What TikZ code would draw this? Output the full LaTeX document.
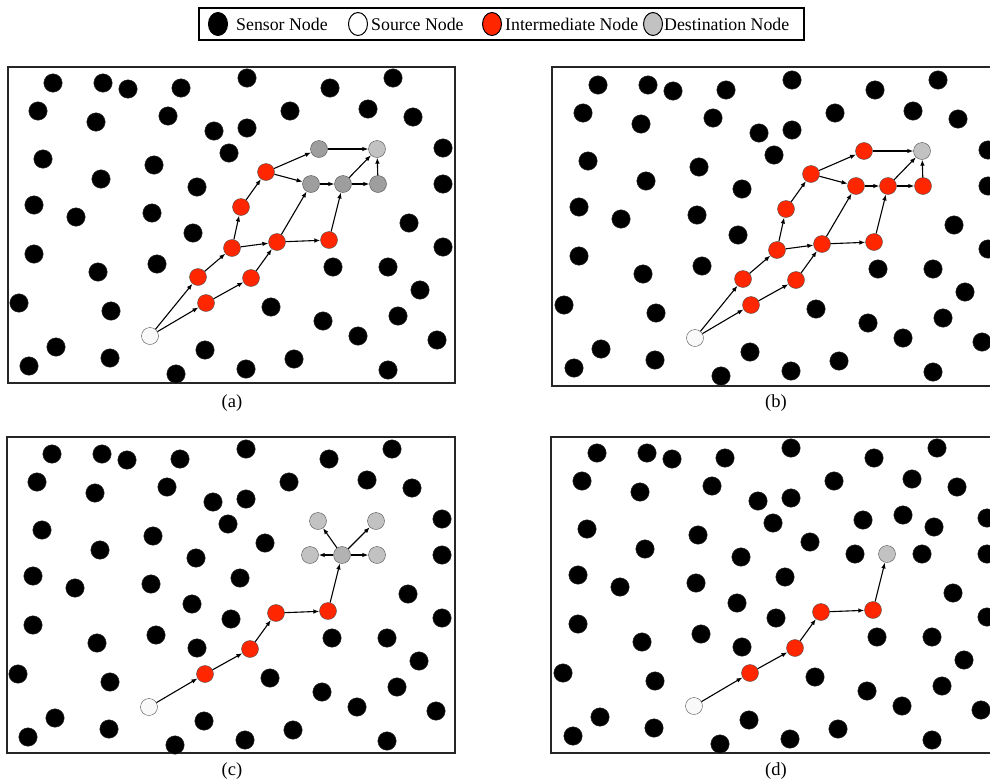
\documentclass[tikz,border=0pt]{standalone}
\usepackage{fontspec}
\setmainfont{Liberation Serif}
\usetikzlibrary{arrows.meta,shapes.geometric}

\definecolor{interred}{HTML}{FF2600}
\definecolor{destgray}{HTML}{C2C2C2}
\definecolor{hopgray}{HTML}{9E9E9E}
\definecolor{rimgray}{HTML}{505050}

\newcommand{\sensorlist}{53/83, 103/83, 128/89, 181/88, 247/78, 330/88, 393/78,
  38/111, 96/122, 168/116, 214/131, 247/128, 290/111, 368/109, 413/117,
  43/159, 154/165, 229/153, 101/179, 197/187, 443/148, 443/184,
  34/205, 76/217, 152/213, 193/233, 409/223, 34/254, 98/272, 157/264,
  443/247, 333/267, 388/267, 420/290, 19/303, 111/311, 271/307, 323/321,
  398/316, 358/336, 437/340, 56/347, 29/366, 110/358, 176/374, 205/350,
  246/369, 294/359, 388/370}
\newcommand{\routelist}{s/r1, s/r2, r1/r3, r2/r4, r3/r5, r3/r6, r4/r6, r5/r7,
  r6/r8, r7/g1, r7/g3, r6/g3, r8/g4, g3/g4, g4/g5, g4/g2, g5/g2, g1/g2}

\begin{document}
\begin{tikzpicture}[x=1pt,y=-1pt,
  sensor/.style={circle,fill=black,draw=black!80,minimum size=18.5pt,inner sep=0pt},
  src/.style={circle,fill=gray!5,draw=rimgray,minimum size=17pt,inner sep=0pt},
  relay/.style={circle,fill=interred,draw=rimgray,minimum size=17pt,inner sep=0pt},
  hop/.style={circle,fill=hopgray,draw=rimgray,minimum size=17pt,inner sep=0pt},
  dest/.style={circle,fill=destgray,draw=rimgray,minimum size=17pt,inner sep=0pt},
  hoparrow/.style={-{Latex[length=6pt,width=4.5pt]},line width=1.1pt},
  panelbox/.style={line width=1.5pt,draw=black!85},
  keymark/.style={ellipse,draw=black,line width=1pt,minimum width=19pt,minimum height=23pt,inner sep=0pt},
  keytext/.style={anchor=west,inner sep=0pt,font=\fontsize{17.8}{20}\selectfont},
  capt/.style={font=\fontsize{18.5}{20}\selectfont}]
  \useasboundingbox (0,0) rectangle (990,782);
  \clip (0,0) rectangle (990,782);

  \draw[line width=1.2pt] (199,8) rectangle (804,40);
  \node[keymark,fill=black] (key-sensor) at (218,24) {};
  \node[keytext] (key-sensor-txt) at (236,24) {Sensor Node};
  \node[keymark,fill=white] (key-src) at (358,24) {};
  \node[keytext] (key-src-txt) at (371,24) {Source Node};
  \node[keymark,fill=interred] (key-relay) at (492,24) {};
  \node[keytext] (key-relay-txt) at (505,24) {Intermediate Node};
  \node[keymark,fill=destgray] (key-dest) at (653,24) {};
  \node[keytext] (key-dest-txt) at (664,24) {Destination Node};

  \draw[panelbox] (8,67) rectangle (455,383);
  \draw[panelbox] (552,67) rectangle (1000,386);
  \draw[panelbox] (7,437) rectangle (455,753);
  \draw[panelbox] (551,437) rectangle (1000,753);
  \node[capt] (a-cap) at (232,403) {(a)};
  \node[capt] (b-cap) at (776,403) {(b)};
  \node[capt] (c-cap) at (232,771) {(c)};
  \node[capt] (d-cap) at (776,771) {(d)};

  \foreach \x/\y [count=\i] in \sensorlist
    \node[sensor] (a-\i) at (\x,\y) {};
  \node[src] (a-s) at (150,336) {};
  \node[relay] (a-r1) at (198,277) {};
  \node[relay] (a-r2) at (206,303) {};
  \node[relay] (a-r3) at (232,248) {};
  \node[relay] (a-r4) at (251,278) {};
  \node[relay] (a-r5) at (241,207) {};
  \node[relay] (a-r6) at (277,242) {};
  \node[relay] (a-r7) at (266,172) {};
  \node[relay] (a-r8) at (329,240) {};
  \node[hop] (a-g1) at (319,149) {};
  \node[dest] (a-g2) at (377,149) {};
  \node[hop] (a-g3) at (311,184) {};
  \node[hop] (a-g4) at (343,184) {};
  \node[hop] (a-g5) at (378,184) {};
  \foreach \u/\v in \routelist
    \draw[hoparrow] (a-\u) -- (a-\v);

  \begin{scope}[shift={(545,2)}]
    \foreach \x/\y [count=\i] in \sensorlist
      \node[sensor] (b-\i) at (\x,\y) {};
    \node[src] (b-s) at (150,336) {};
    \node[relay] (b-r1) at (198,277) {};
    \node[relay] (b-r2) at (206,303) {};
    \node[relay] (b-r3) at (232,248) {};
    \node[relay] (b-r4) at (251,278) {};
    \node[relay] (b-r5) at (241,207) {};
    \node[relay] (b-r6) at (277,242) {};
    \node[relay] (b-r7) at (266,172) {};
    \node[relay] (b-r8) at (329,240) {};
    \node[relay] (b-g1) at (319,149) {};
    \node[dest] (b-g2) at (377,149) {};
    \node[relay] (b-g3) at (311,184) {};
    \node[relay] (b-g4) at (343,184) {};
    \node[relay] (b-g5) at (378,184) {};
    \foreach \u/\v in \routelist
      \draw[hoparrow] (b-\u) -- (b-\v);
  \end{scope}

  \begin{scope}[shift={(-1,371)}]
    \foreach \x/\y [count=\i] in \sensorlist
      \node[sensor] (c-\i) at (\x,\y) {};
    \foreach \x/\y [count=\i] in {198/277, 232/248, 241/207, 266/172}
      \node[sensor] (c-x\i) at (\x,\y) {};
    \node[src] (c-s) at (150,336) {};
    \node[relay] (c-r2) at (206,303) {};
    \node[relay] (c-r4) at (251,278) {};
    \node[relay] (c-r6) at (277,242) {};
    \node[relay] (c-r8) at (329,240) {};
    \node[dest] (c-g1) at (319,150) {};
    \node[dest] (c-g2) at (377,150) {};
    \node[dest] (c-g3) at (311,184) {};
    \node[dest,fill=destgray!92!black] (c-g4) at (343,184) {};
    \node[dest] (c-g5) at (378,184) {};
    \foreach \u/\v in {s/r2, r2/r4, r4/r6, r6/r8, r8/g4, g4/g1, g4/g2, g4/g3, g4/g5}
      \draw[hoparrow] (c-\u) -- (c-\v);
  \end{scope}

  \begin{scope}[shift={(544,370)}]
    \foreach \x/\y [count=\i] in \sensorlist
      \node[sensor] (d-\i) at (\x,\y) {};
    \foreach \x/\y [count=\i] in {198/277, 232/248, 241/207, 266/172,
        319/150, 311/184, 378/184, 359/145, 390/157}
      \node[sensor] (d-x\i) at (\x,\y) {};
    \node[src] (d-s) at (150,336) {};
    \node[relay] (d-r2) at (206,303) {};
    \node[relay] (d-r4) at (251,278) {};
    \node[relay] (d-r6) at (277,242) {};
    \node[relay] (d-r8) at (329,240) {};
    \node[dest] (d-g4) at (343,184) {};
    \foreach \u/\v in {s/r2, r2/r4, r4/r6, r6/r8, r8/g4}
      \draw[hoparrow] (d-\u) -- (d-\v);
  \end{scope}
\end{tikzpicture}
\end{document}
